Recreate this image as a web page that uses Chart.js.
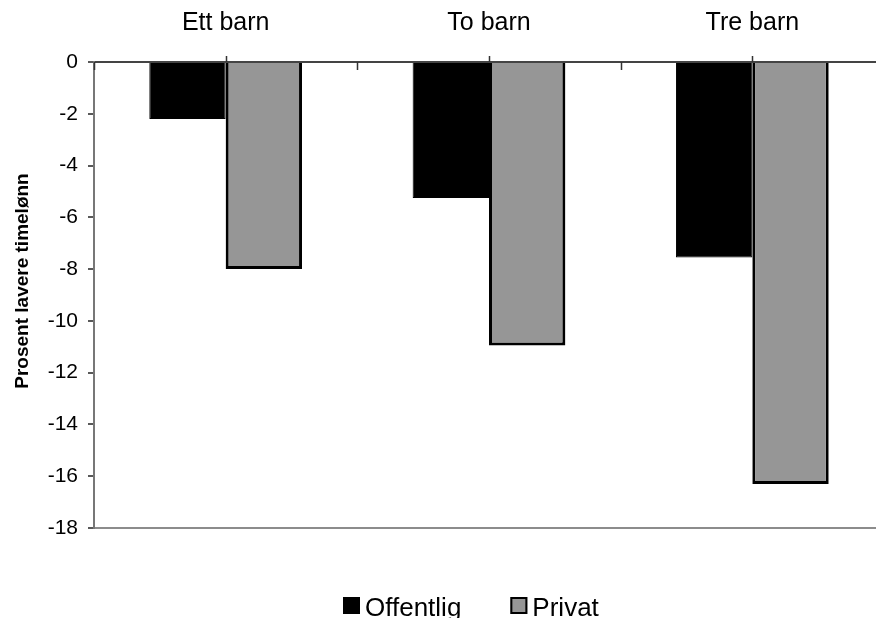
<!DOCTYPE html>
<html>
<head>
<meta charset="utf-8">
<script src="https://cdn.jsdelivr.net/npm/chart.js@4/dist/chart.umd.min.js"></script>
<style>
  html, body { margin: 0; padding: 0; background: #fff; }
  #wrap { width: 876px; height: 618px; overflow: hidden; position: relative; }
  canvas { display: block; }
</style>
</head>
<body>
<div id="wrap"><canvas id="c" width="900" height="618"></canvas></div>
<script>
// Categories, series and axis ticks
const categories = ['Ett barn', 'To barn', 'Tre barn'];
const offentlig = [-2.2, -5.25, -7.55];
const privat = [-8.0, -10.95, -16.3];
const yTicks = [0, -2, -4, -6, -8, -10, -12, -14, -16, -18];
const yTitle = 'Prosent lavere timelønn';
const seriesNames = ['Offentlig', 'Privat'];

const FONT = '"Liberation Sans", Arial, Helvetica, sans-serif';

// Tick marks on the top category axis: short up-ticks at category centres,
// down-ticks at category boundaries.
const categoryTicks = {
  id: 'categoryTicks',
  afterDraw(chart) {
    const x = chart.scales.x;
    const top = chart.chartArea.top;
    const ctx = chart.ctx;
    ctx.save();
    ctx.strokeStyle = '#333';
    ctx.lineWidth = 1.5;
    ctx.beginPath();
    for (let i = 0; i < categories.length; i++) {
      const cx = Math.round(x.getPixelForValue(i)) + 0.5;
      ctx.moveTo(cx, top - 6);
      ctx.lineTo(cx, top);
    }
    for (let i = -0.5; i <= categories.length - 0.5; i += 1) {
      const bx = Math.round(x.getPixelForValue(i)) + 0.5;
      ctx.moveTo(bx, top);
      ctx.lineTo(bx, top + 8);
    }
    ctx.stroke();
    ctx.restore();
  }
};

// Vertical axis title
const axisTitle = {
  id: 'axisTitle',
  afterDraw(chart) {
    const ctx = chart.ctx;
    ctx.save();
    ctx.translate(23, 281);
    ctx.rotate(-Math.PI / 2);
    ctx.font = 'bold 19px ' + FONT;
    ctx.fillStyle = '#000';
    ctx.textAlign = 'center';
    ctx.textBaseline = 'middle';
    ctx.fillText(yTitle, 0, 0);
    ctx.restore();
  }
};

// Legend row below the plot
const legendRow = {
  id: 'legendRow',
  afterDraw(chart) {
    const ctx = chart.ctx;
    ctx.save();
    ctx.font = '26px ' + FONT;
    ctx.textBaseline = 'alphabetic';
    ctx.textAlign = 'left';
    const box = 17, gap = 5, spacing = 49, baseY = 615.5, boxTop = 597;
    const widths = chart.data.datasets.map(d => ctx.measureText(d.label).width);
    const total = widths.reduce((a, w) => a + box + gap + w, 0) + spacing * (widths.length - 1);
    let xPos = Math.round(470.5 - total / 2);
    chart.data.datasets.forEach((d, i) => {
      ctx.fillStyle = d.backgroundColor;
      ctx.fillRect(xPos, boxTop, box, box);
      if (i > 0) {
        ctx.strokeStyle = '#000';
        ctx.lineWidth = 2;
        ctx.strokeRect(xPos + 1, boxTop + 1, box - 2, box - 2);
      }
      ctx.fillStyle = '#000';
      ctx.fillText(d.label, xPos + box + gap, baseY);
      xPos += box + gap + widths[i] + spacing;
    });
    ctx.restore();
  }
};

new Chart(document.getElementById('c'), {
  type: 'bar',
  data: {
    labels: categories,
    datasets: [
      {
        label: seriesNames[0],
        data: offentlig,
        backgroundColor: '#000000',
        borderColor: '#000000',
        borderWidth: 1,
        categoryPercentage: 0.58,
        barPercentage: 1.0
      },
      {
        label: seriesNames[1],
        data: privat,
        backgroundColor: '#969696',
        borderColor: '#000000',
        borderWidth: 3,
        categoryPercentage: 0.58,
        barPercentage: 1.0
      }
    ]
  },
  options: {
    responsive: false,
    animation: false,
    devicePixelRatio: 1,
    layout: { padding: { left: 0, right: 16, top: 0, bottom: 90 } },
    plugins: {
      legend: { display: false },
      tooltip: { enabled: false }
    },
    scales: {
      x: {
        position: 'top',
        grid: { display: false, drawTicks: false },
        border: { display: true, color: '#444', width: 2 },
        ticks: {
          color: '#000',
          padding: 24,
          font: { family: FONT, size: 25 }
        },
        afterFit(scale) { scale.height = 62; }
      },
      y: {
        min: -18,
        max: 0,
        afterBuildTicks(scale) {
          scale.ticks = yTicks.map(v => ({ value: v }));
        },
        grid: {
          drawOnChartArea: true,
          color: ctx => (ctx.tick && ctx.tick.value === -18) ? '#8c8c8c' : 'rgba(0,0,0,0)',
          lineWidth: 2,
          tickColor: '#222',
          tickWidth: 1.5,
          tickLength: 6
        },
        border: { display: true, color: '#777', width: 2 },
        ticks: {
          color: '#000',
          padding: 10,
          font: { family: FONT, size: 21 },
          callback: v => String(v)
        },
        afterFit(scale) { scale.width = 94; }
      }
    }
  },
  plugins: [categoryTicks, axisTitle, legendRow]
});
</script>
</body>
</html>
